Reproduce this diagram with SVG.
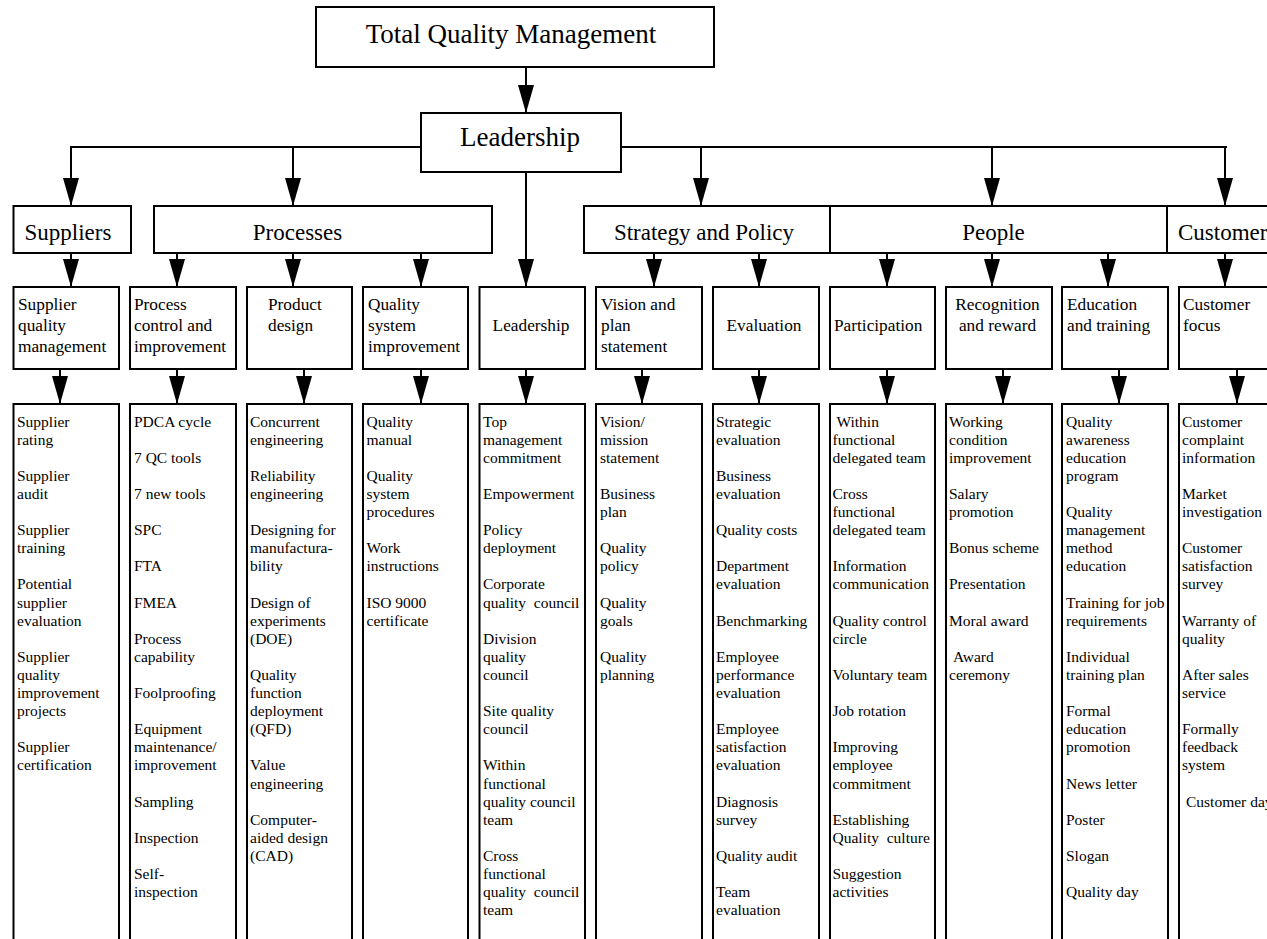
<svg xmlns="http://www.w3.org/2000/svg" width="1267" height="939" viewBox="0 0 1267 939">
<style>
.box{fill:#fff;stroke:#000;stroke-width:2}
.t{font-family:"Liberation Serif","Times New Roman",serif;fill:#000}
.t27{font-size:27px}
.t23{font-size:23px}
.t17{font-size:17.3px}
.t15{font-size:15.5px}
.mid{text-anchor:middle}
.con{fill:none;stroke:#000;stroke-width:2}
</style>
<defs>
<marker id="ah" viewBox="0 0 28 16" refX="28" refY="8" markerWidth="28" markerHeight="16" markerUnits="userSpaceOnUse" orient="auto">
<path d="M0,0 L28,8 L0,16 z" fill="#000"/>
</marker>
</defs>
<rect width="1267" height="939" fill="#fff"/>

<g id="connectors" class="con">
<path d="M526,67 V113" marker-end="url(#ah)"/>
<path d="M421,147 H71 V206" marker-end="url(#ah)"/>
<path d="M293,147 V206" marker-end="url(#ah)"/>
<path d="M621,147 H1227"/>
<path d="M701,147 V206" marker-end="url(#ah)"/>
<path d="M992,147 V206" marker-end="url(#ah)"/>
<path d="M1225,147 V206" marker-end="url(#ah)"/>
<path d="M526,172 V287" marker-end="url(#ah)"/>
<path d="M71,253 V287" marker-end="url(#ah)"/>
<path d="M177,253 V287" marker-end="url(#ah)"/>
<path d="M293,253 V287" marker-end="url(#ah)"/>
<path d="M421,253 V287" marker-end="url(#ah)"/>
<path d="M654,253 V287" marker-end="url(#ah)"/>
<path d="M759,253 V287" marker-end="url(#ah)"/>
<path d="M887,253 V287" marker-end="url(#ah)"/>
<path d="M992,253 V287" marker-end="url(#ah)"/>
<path d="M1108,253 V287" marker-end="url(#ah)"/>
<path d="M1225,253 V287" marker-end="url(#ah)"/>
<path d="M60,369 V404" marker-end="url(#ah)"/>
<path d="M177,369 V404" marker-end="url(#ah)"/>
<path d="M304,369 V404" marker-end="url(#ah)"/>
<path d="M421,369 V404" marker-end="url(#ah)"/>
<path d="M526,369 V404" marker-end="url(#ah)"/>
<path d="M642,369 V404" marker-end="url(#ah)"/>
<path d="M759,369 V404" marker-end="url(#ah)"/>
<path d="M887,369 V404" marker-end="url(#ah)"/>
<path d="M1003,369 V404" marker-end="url(#ah)"/>
<path d="M1119,369 V404" marker-end="url(#ah)"/>
<path d="M1237,369 V404" marker-end="url(#ah)"/>
</g>

<g id="tqm"><rect class="box" x="316" y="7" width="398" height="60"/><text class="t t27 mid" x="511" y="43">Total Quality Management</text></g>
<g id="leadership-top"><rect class="box" x="421" y="113" width="200" height="59"/><text class="t t27 mid" x="520" y="146">Leadership</text></g>

<g id="suppliers"><rect class="box" x="13.5" y="206" width="117.5" height="47"/><text class="t t23 mid" x="68" y="240">Suppliers</text></g>
<g id="processes"><rect class="box" x="154" y="206" width="338" height="47"/><text class="t t23 mid" x="297.5" y="240">Processes</text></g>
<g id="strategy"><rect class="box" x="584" y="206" width="246" height="47"/><text class="t t23 mid" x="704" y="240">Strategy and Policy</text></g>
<g id="people"><rect class="box" x="830" y="206" width="337" height="47"/><text class="t t23 mid" x="993.5" y="240">People</text></g>
<g id="customers"><rect class="box" x="1167" y="206" width="140" height="47"/><text class="t t23" x="1178" y="240">Customer</text></g>

<g id="c1"><rect class="box" x="13.5" y="287" width="105.5" height="82"/><text class="t t17"><tspan x="18" y="310">Supplier</tspan><tspan x="18" y="331">quality</tspan><tspan x="18" y="352">management</tspan></text></g>
<g id="c2"><rect class="box" x="130" y="287" width="106" height="82"/><text class="t t17"><tspan x="134" y="310">Process</tspan><tspan x="134" y="331">control and</tspan><tspan x="134" y="352">improvement</tspan></text></g>
<g id="c3"><rect class="box" x="247" y="287" width="105" height="82"/><text class="t t17"><tspan x="268" y="310">Product</tspan><tspan x="268" y="331">design</tspan></text></g>
<g id="c4"><rect class="box" x="363" y="287" width="105" height="82"/><text class="t t17"><tspan x="368" y="310">Quality</tspan><tspan x="368" y="331">system</tspan><tspan x="368" y="352">improvement</tspan></text></g>
<g id="c5"><rect class="box" x="479.5" y="287" width="105.5" height="82"/><text class="t t17 mid" x="531" y="331">Leadership</text></g>
<g id="c6"><rect class="box" x="596" y="287" width="106" height="82"/><text class="t t17"><tspan x="601" y="310">Vision and</tspan><tspan x="601" y="331">plan</tspan><tspan x="601" y="352">statement</tspan></text></g>
<g id="c7"><rect class="box" x="713" y="287" width="106" height="82"/><text class="t t17 mid" x="764" y="331">Evaluation</text></g>
<g id="c8"><rect class="box" x="830" y="287" width="105" height="82"/><text class="t t17" x="834" y="331">Participation</text></g>
<g id="c9"><rect class="box" x="946" y="287" width="106" height="82"/><text class="t t17 mid"><tspan x="997.5" y="310">Recognition</tspan><tspan x="997.5" y="331">and reward</tspan></text></g>
<g id="c10"><rect class="box" x="1062" y="287" width="106" height="82"/><text class="t t17"><tspan x="1067" y="310">Education</tspan><tspan x="1067" y="331">and training</tspan></text></g>
<g id="c11"><rect class="box" x="1179" y="287" width="120" height="82"/><text class="t t17"><tspan x="1183" y="310">Customer</tspan><tspan x="1183" y="331">focus</tspan></text></g>

<g id="l1"><rect class="box" x="13.5" y="404" width="105.5" height="545"/><text class="t t15">
<tspan x="17" y="426.5">Supplier</tspan><tspan x="17" y="444.6">rating</tspan>
<tspan x="17" y="480.8">Supplier</tspan><tspan x="17" y="498.9">audit</tspan>
<tspan x="17" y="535.1">Supplier</tspan><tspan x="17" y="553.2">training</tspan>
<tspan x="17" y="589.4">Potential</tspan><tspan x="17" y="607.5">supplier</tspan><tspan x="17" y="625.6">evaluation</tspan>
<tspan x="17" y="661.8">Supplier</tspan><tspan x="17" y="679.9">quality</tspan><tspan x="17" y="698">improvement</tspan><tspan x="17" y="716.1">projects</tspan>
<tspan x="17" y="752.3">Supplier</tspan><tspan x="17" y="770.4">certification</tspan>
</text></g>

<g id="l2"><rect class="box" x="130" y="404" width="106" height="545"/><text class="t t15">
<tspan x="134" y="426.5">PDCA cycle</tspan>
<tspan x="134" y="462.7">7 QC tools</tspan>
<tspan x="134" y="498.9">7 new tools</tspan>
<tspan x="134" y="535.1">SPC</tspan>
<tspan x="134" y="571.3">FTA</tspan>
<tspan x="134" y="607.5">FMEA</tspan>
<tspan x="134" y="643.7">Process</tspan><tspan x="134" y="661.8">capability</tspan>
<tspan x="134" y="698">Foolproofing</tspan>
<tspan x="134" y="734.2">Equipment</tspan><tspan x="134" y="752.3">maintenance/</tspan><tspan x="134" y="770.4">improvement</tspan>
<tspan x="134" y="806.6">Sampling</tspan>
<tspan x="134" y="842.8">Inspection</tspan>
<tspan x="134" y="879">Self-</tspan><tspan x="134" y="897.1">inspection</tspan>
</text></g>

<g id="l3"><rect class="box" x="247" y="404" width="105" height="545"/><text class="t t15">
<tspan x="250" y="426.5">Concurrent</tspan><tspan x="250" y="444.6">engineering</tspan>
<tspan x="250" y="480.8">Reliability</tspan><tspan x="250" y="498.9">engineering</tspan>
<tspan x="250" y="535.1">Designing for</tspan><tspan x="250" y="553.2">manufactura-</tspan><tspan x="250" y="571.3">bility</tspan>
<tspan x="250" y="607.5">Design of</tspan><tspan x="250" y="625.6">experiments</tspan><tspan x="250" y="643.7">(DOE)</tspan>
<tspan x="250" y="679.9">Quality</tspan><tspan x="250" y="698">function</tspan><tspan x="250" y="716.1">deployment</tspan><tspan x="250" y="734.2">(QFD)</tspan>
<tspan x="250" y="770.4">Value</tspan><tspan x="250" y="788.5">engineering</tspan>
<tspan x="250" y="824.7">Computer-</tspan><tspan x="250" y="842.8">aided design</tspan><tspan x="250" y="860.9">(CAD)</tspan>
</text></g>

<g id="l4"><rect class="box" x="363" y="404" width="105" height="545"/><text class="t t15">
<tspan x="366.5" y="426.5">Quality</tspan><tspan x="366.5" y="444.6">manual</tspan>
<tspan x="366.5" y="480.8">Quality</tspan><tspan x="366.5" y="498.9">system</tspan><tspan x="366.5" y="517">procedures</tspan>
<tspan x="366.5" y="553.2">Work</tspan><tspan x="366.5" y="571.3">instructions</tspan>
<tspan x="366.5" y="607.5">ISO 9000</tspan><tspan x="366.5" y="625.6">certificate</tspan>
</text></g>

<g id="l5"><rect class="box" x="479.5" y="404" width="105.5" height="545"/><text class="t t15" xml:space="preserve"><tspan x="483" y="426.5">Top</tspan><tspan x="483" y="444.6">management</tspan><tspan x="483" y="462.7">commitment</tspan><tspan x="483" y="498.9">Empowerment</tspan><tspan x="483" y="535.1">Policy</tspan><tspan x="483" y="553.2">deployment</tspan><tspan x="483" y="589.4">Corporate</tspan><tspan x="483" y="607.5">quality  council</tspan><tspan x="483" y="643.7">Division</tspan><tspan x="483" y="661.8">quality</tspan><tspan x="483" y="679.9">council</tspan><tspan x="483" y="716.1">Site quality</tspan><tspan x="483" y="734.2">council</tspan><tspan x="483" y="770.4">Within</tspan><tspan x="483" y="788.5">functional</tspan><tspan x="483" y="806.6">quality council</tspan><tspan x="483" y="824.7">team</tspan><tspan x="483" y="860.9">Cross</tspan><tspan x="483" y="879">functional</tspan><tspan x="483" y="897.1">quality  council</tspan><tspan x="483" y="915.2">team</tspan></text></g>

<g id="l6"><rect class="box" x="596" y="404" width="106" height="545"/><text class="t t15">
<tspan x="600" y="426.5">Vision/</tspan><tspan x="600" y="444.6">mission</tspan><tspan x="600" y="462.7">statement</tspan>
<tspan x="600" y="498.9">Business</tspan><tspan x="600" y="517">plan</tspan>
<tspan x="600" y="553.2">Quality</tspan><tspan x="600" y="571.3">policy</tspan>
<tspan x="600" y="607.5">Quality</tspan><tspan x="600" y="625.6">goals</tspan>
<tspan x="600" y="661.8">Quality</tspan><tspan x="600" y="679.9">planning</tspan>
</text></g>

<g id="l7"><rect class="box" x="713" y="404" width="106" height="545"/><text class="t t15">
<tspan x="716" y="426.5">Strategic</tspan><tspan x="716" y="444.6">evaluation</tspan>
<tspan x="716" y="480.8">Business</tspan><tspan x="716" y="498.9">evaluation</tspan>
<tspan x="716" y="535.1">Quality costs</tspan>
<tspan x="716" y="571.3">Department</tspan><tspan x="716" y="589.4">evaluation</tspan>
<tspan x="716" y="625.6">Benchmarking</tspan>
<tspan x="716" y="661.8">Employee</tspan><tspan x="716" y="679.9">performance</tspan><tspan x="716" y="698">evaluation</tspan>
<tspan x="716" y="734.2">Employee</tspan><tspan x="716" y="752.3">satisfaction</tspan><tspan x="716" y="770.4">evaluation</tspan>
<tspan x="716" y="806.6">Diagnosis</tspan><tspan x="716" y="824.7">survey</tspan>
<tspan x="716" y="860.9">Quality audit</tspan>
<tspan x="716" y="897.1">Team</tspan><tspan x="716" y="915.2">evaluation</tspan>
</text></g>

<g id="l8"><rect class="box" x="830" y="404" width="105" height="545"/><text class="t t15" xml:space="preserve"><tspan x="836.5" y="426.5">Within</tspan><tspan x="832.5" y="444.6">functional</tspan><tspan x="832.5" y="462.7">delegated team</tspan><tspan x="832.5" y="498.9">Cross</tspan><tspan x="832.5" y="517">functional</tspan><tspan x="832.5" y="535.1">delegated team</tspan><tspan x="832.5" y="571.3">Information</tspan><tspan x="832.5" y="589.4">communication</tspan><tspan x="832.5" y="625.6">Quality control</tspan><tspan x="832.5" y="643.7">circle</tspan><tspan x="832.5" y="679.9">Voluntary team</tspan><tspan x="832.5" y="716.1">Job rotation</tspan><tspan x="832.5" y="752.3">Improving</tspan><tspan x="832.5" y="770.4">employee</tspan><tspan x="832.5" y="788.5">commitment</tspan><tspan x="832.5" y="824.7">Establishing</tspan><tspan x="832.5" y="842.8">Quality  culture</tspan><tspan x="832.5" y="879">Suggestion</tspan><tspan x="832.5" y="897.1">activities</tspan></text></g>

<g id="l9"><rect class="box" x="946" y="404" width="106" height="545"/><text class="t t15">
<tspan x="949" y="426.5">Working</tspan><tspan x="949" y="444.6">condition</tspan><tspan x="949" y="462.7">improvement</tspan>
<tspan x="949" y="498.9">Salary</tspan><tspan x="949" y="517">promotion</tspan>
<tspan x="949" y="553.2">Bonus scheme</tspan>
<tspan x="949" y="589.4">Presentation</tspan>
<tspan x="949" y="625.6">Moral award</tspan>
<tspan x="953" y="661.8">Award</tspan><tspan x="949" y="679.9">ceremony</tspan>
</text></g>

<g id="l10"><rect class="box" x="1062" y="404" width="106" height="545"/><text class="t t15">
<tspan x="1066" y="426.5">Quality</tspan><tspan x="1066" y="444.6">awareness</tspan><tspan x="1066" y="462.7">education</tspan><tspan x="1066" y="480.8">program</tspan>
<tspan x="1066" y="517">Quality</tspan><tspan x="1066" y="535.1">management</tspan><tspan x="1066" y="553.2">method</tspan><tspan x="1066" y="571.3">education</tspan>
<tspan x="1066" y="607.5">Training for job</tspan><tspan x="1066" y="625.6">requirements</tspan>
<tspan x="1066" y="661.8">Individual</tspan><tspan x="1066" y="679.9">training plan</tspan>
<tspan x="1066" y="716.1">Formal</tspan><tspan x="1066" y="734.2">education</tspan><tspan x="1066" y="752.3">promotion</tspan>
<tspan x="1066" y="788.5">News letter</tspan>
<tspan x="1066" y="824.7">Poster</tspan>
<tspan x="1066" y="860.9">Slogan</tspan>
<tspan x="1066" y="897.1">Quality day</tspan>
</text></g>

<g id="l11"><rect class="box" x="1179" y="404" width="120" height="545"/><text class="t t15">
<tspan x="1182" y="426.5">Customer</tspan><tspan x="1182" y="444.6">complaint</tspan><tspan x="1182" y="462.7">information</tspan>
<tspan x="1182" y="498.9">Market</tspan><tspan x="1182" y="517">investigation</tspan>
<tspan x="1182" y="553.2">Customer</tspan><tspan x="1182" y="571.3">satisfaction</tspan><tspan x="1182" y="589.4">survey</tspan>
<tspan x="1182" y="625.6">Warranty of</tspan><tspan x="1182" y="643.7">quality</tspan>
<tspan x="1182" y="679.9">After sales</tspan><tspan x="1182" y="698">service</tspan>
<tspan x="1182" y="734.2">Formally</tspan><tspan x="1182" y="752.3">feedback</tspan><tspan x="1182" y="770.4">system</tspan>
<tspan x="1186" y="806.6">Customer day</tspan>
</text></g>
</svg>
